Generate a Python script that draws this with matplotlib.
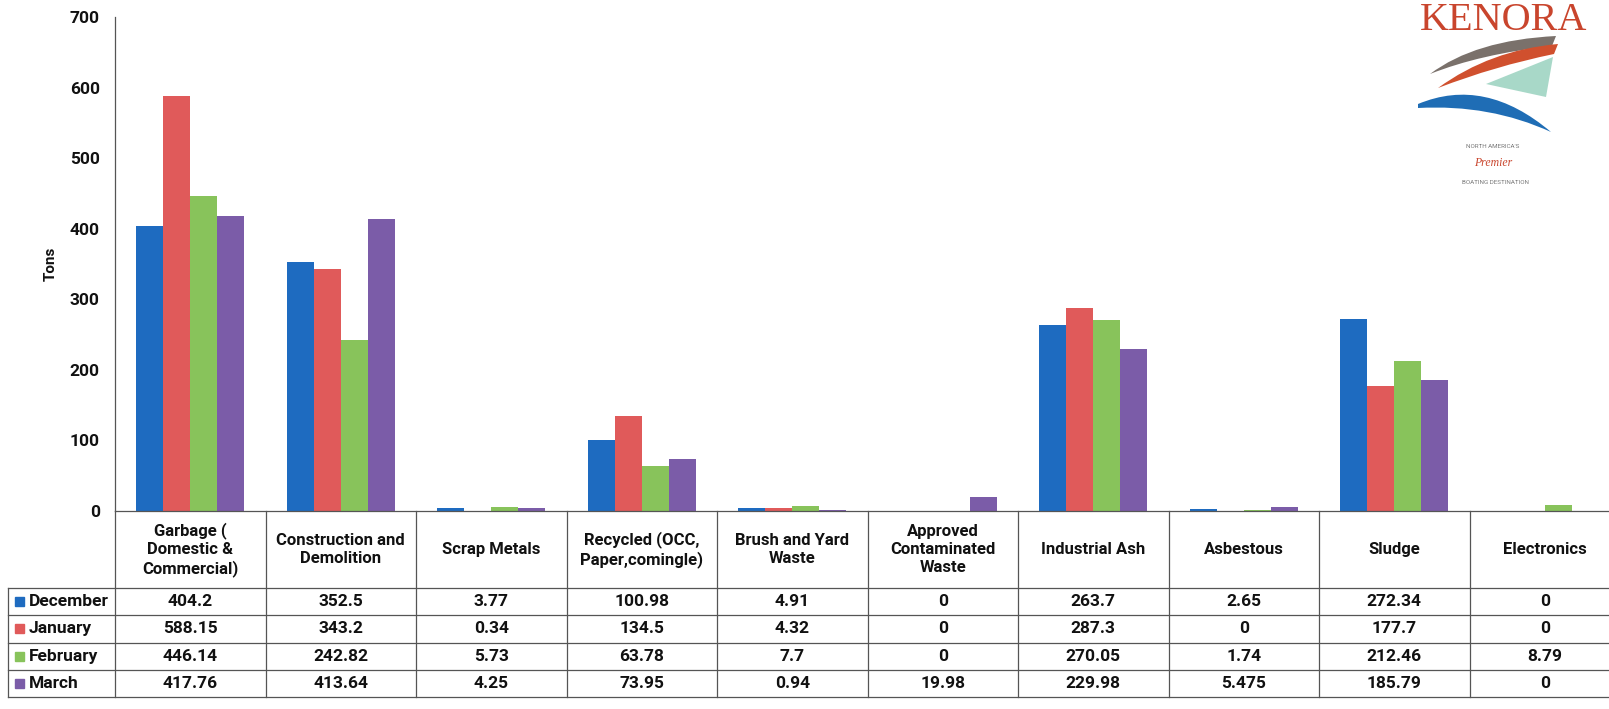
import matplotlib.pyplot as plt
import matplotlib.transforms as mtransforms
from matplotlib.lines import Line2D
from matplotlib.patches import Rectangle, PathPatch
from matplotlib.path import Path
import numpy as np

plt.rcParams['font.family'] = ['Roboto', 'DejaVu Sans']

categories = ["Garbage (\nDomestic &\nCommercial)", "Construction and\nDemolition", "Scrap Metals",
              "Recycled (OCC,\nPaper,comingle)", "Brush and Yard\nWaste",
              "Approved\nContaminated\nWaste", "Industrial Ash", "Asbestous", "Sludge", "Electronics"]
months = ["December", "January", "February", "March"]
december = [404.2, 352.5, 3.77, 100.98, 4.91, 0, 263.7, 2.65, 272.34, 0]
january = [588.15, 343.2, 0.34, 134.5, 4.32, 0, 287.3, 0, 177.7, 0]
february = [446.14, 242.82, 5.73, 63.78, 7.7, 0, 270.05, 1.74, 212.46, 8.79]
march = [417.76, 413.64, 4.25, 73.95, 0.94, 19.98, 229.98, 5.475, 185.79, 0]
series = [december, january, february, march]
colors = ['#1E6BC0', '#E05A5A', '#88C35B', '#7B5CA8']

W, H = 1609, 709
fig = plt.figure(figsize=(W / 100, H / 100), dpi=100)


def fy(py):
    return 1 - py / H


def fx(px):
    return px / W


# axes: x from 115px to 1620px, y 0 at 511px, 700 at 17px
ax = fig.add_axes([fx(115), fy(511), 1505 / W, 494 / H])
x = np.arange(len(categories))
bw = 0.18
for i, vals in enumerate(series):
    ax.bar(x + (i - 1.5) * bw, vals, bw, color=colors[i], label=months[i])

ax.set_xlim(-0.5, len(categories) - 0.5)
ax.set_ylim(0, 700)
ax.set_yticks(range(0, 701, 100))
ax.set_xticks([])
ax.tick_params(axis='y', length=0, pad=11, labelsize=12.5)
for t in ax.get_yticklabels():
    t.set_fontweight('bold')
    t.set_color('#111111')
for s in ['top', 'right', 'bottom']:
    ax.spines[s].set_visible(False)
ax.spines['left'].set_color('#555555')
ax.spines['left'].set_linewidth(0.9)
ax.set_ylabel("Tons", fontsize=11, fontweight='bold', color='#111111')
ax.yaxis.set_label_coords(-0.038, 0.5)

# data table under the axes
trans = mtransforms.blended_transform_factory(ax.transData, fig.transFigure)
line_kw = dict(color='#555555', lw=0.9)
top, head_bot = 511, 588
row_edges = [588, 615.3, 642.6, 669.9, 697.2]
right = len(categories) - 0.5
label_left = -0.5 - 107 / 150.5

fig.add_artist(Line2D([-0.5, right], [fy(top), fy(top)], transform=trans, **line_kw))
for ye in row_edges:
    fig.add_artist(Line2D([label_left, right], [fy(ye), fy(ye)], transform=trans, **line_kw))
for k in range(len(categories) + 1):
    xe = -0.5 + k
    fig.add_artist(Line2D([xe, xe], [fy(top), fy(row_edges[-1])], transform=trans, **line_kw))
fig.add_artist(Line2D([label_left, label_left], [fy(row_edges[0]), fy(row_edges[-1])],
                      transform=trans, **line_kw))

for j, cat in enumerate(categories):
    fig.text(j, fy((top + head_bot) / 2), cat, transform=trans, ha='center', va='center',
             fontsize=12, fontweight='bold', color='#111111', linespacing=1.25)

for i, vals in enumerate(series):
    yc = fy((row_edges[i] + row_edges[i + 1]) / 2)
    for j, v in enumerate(vals):
        fig.text(j, yc, f"{v:g}", transform=trans, ha='center', va='center',
                 fontsize=12.5, fontweight='bold', color='#111111')
    fig.patches.append(Rectangle((fx(15), yc - 4.5 / H), 9 / W, 9 / H, transform=fig.transFigure,
                                 color=colors[i], figure=fig))
    fig.text(fx(29), yc, months[i], ha='left', va='center', fontsize=12.5,
             fontweight='bold', color='#111111')

# Kenora logo (top right)
fig.text(fx(1504), fy(30), "KENORA", ha='center', va='baseline', fontsize=29,
         color='#C9452D', family='Liberation Serif')


def shape(pts, codes, color):
    verts = [(fx(px), fy(py)) for px, py in pts]
    fig.patches.append(PathPatch(Path(verts, codes), transform=fig.transFigure,
                                 facecolor=color, edgecolor='none', figure=fig))


C3 = Path.CURVE3
shape([(1430, 74), (1475, 40), (1556, 36), (1552, 46), (1480, 54), (1430, 74), (1430, 74)],
      [Path.MOVETO, C3, C3, Path.LINETO, C3, C3, Path.CLOSEPOLY], '#7A716B')
shape([(1438, 88), (1490, 50), (1558, 44), (1554, 54), (1495, 66), (1438, 88), (1438, 88)],
      [Path.MOVETO, C3, C3, Path.LINETO, C3, C3, Path.CLOSEPOLY], '#D0502E')
shape([(1486, 84), (1553, 57), (1546, 97), (1486, 84)],
      [Path.MOVETO, Path.LINETO, Path.LINETO, Path.CLOSEPOLY], '#A8D8C8')
shape([(1418, 104), (1485, 76), (1551, 132), (1490, 104), (1418, 108), (1418, 104)],
      [Path.MOVETO, C3, C3, C3, C3, Path.CLOSEPOLY], '#1F6DB5')
fig.text(fx(1493), fy(147), "NORTH AMERICA'S", ha='center', va='center', fontsize=4.5,
         color='#777777')
fig.text(fx(1493), fy(163), "Premier", ha='center', va='center', fontsize=8.5,
         color='#C9452D', family='Liberation Serif', style='italic')
fig.text(fx(1495), fy(182), "BOATING DESTINATION", ha='center', va='center', fontsize=4.5,
         color='#777777')

fig.savefig("out.png", dpi=100)
